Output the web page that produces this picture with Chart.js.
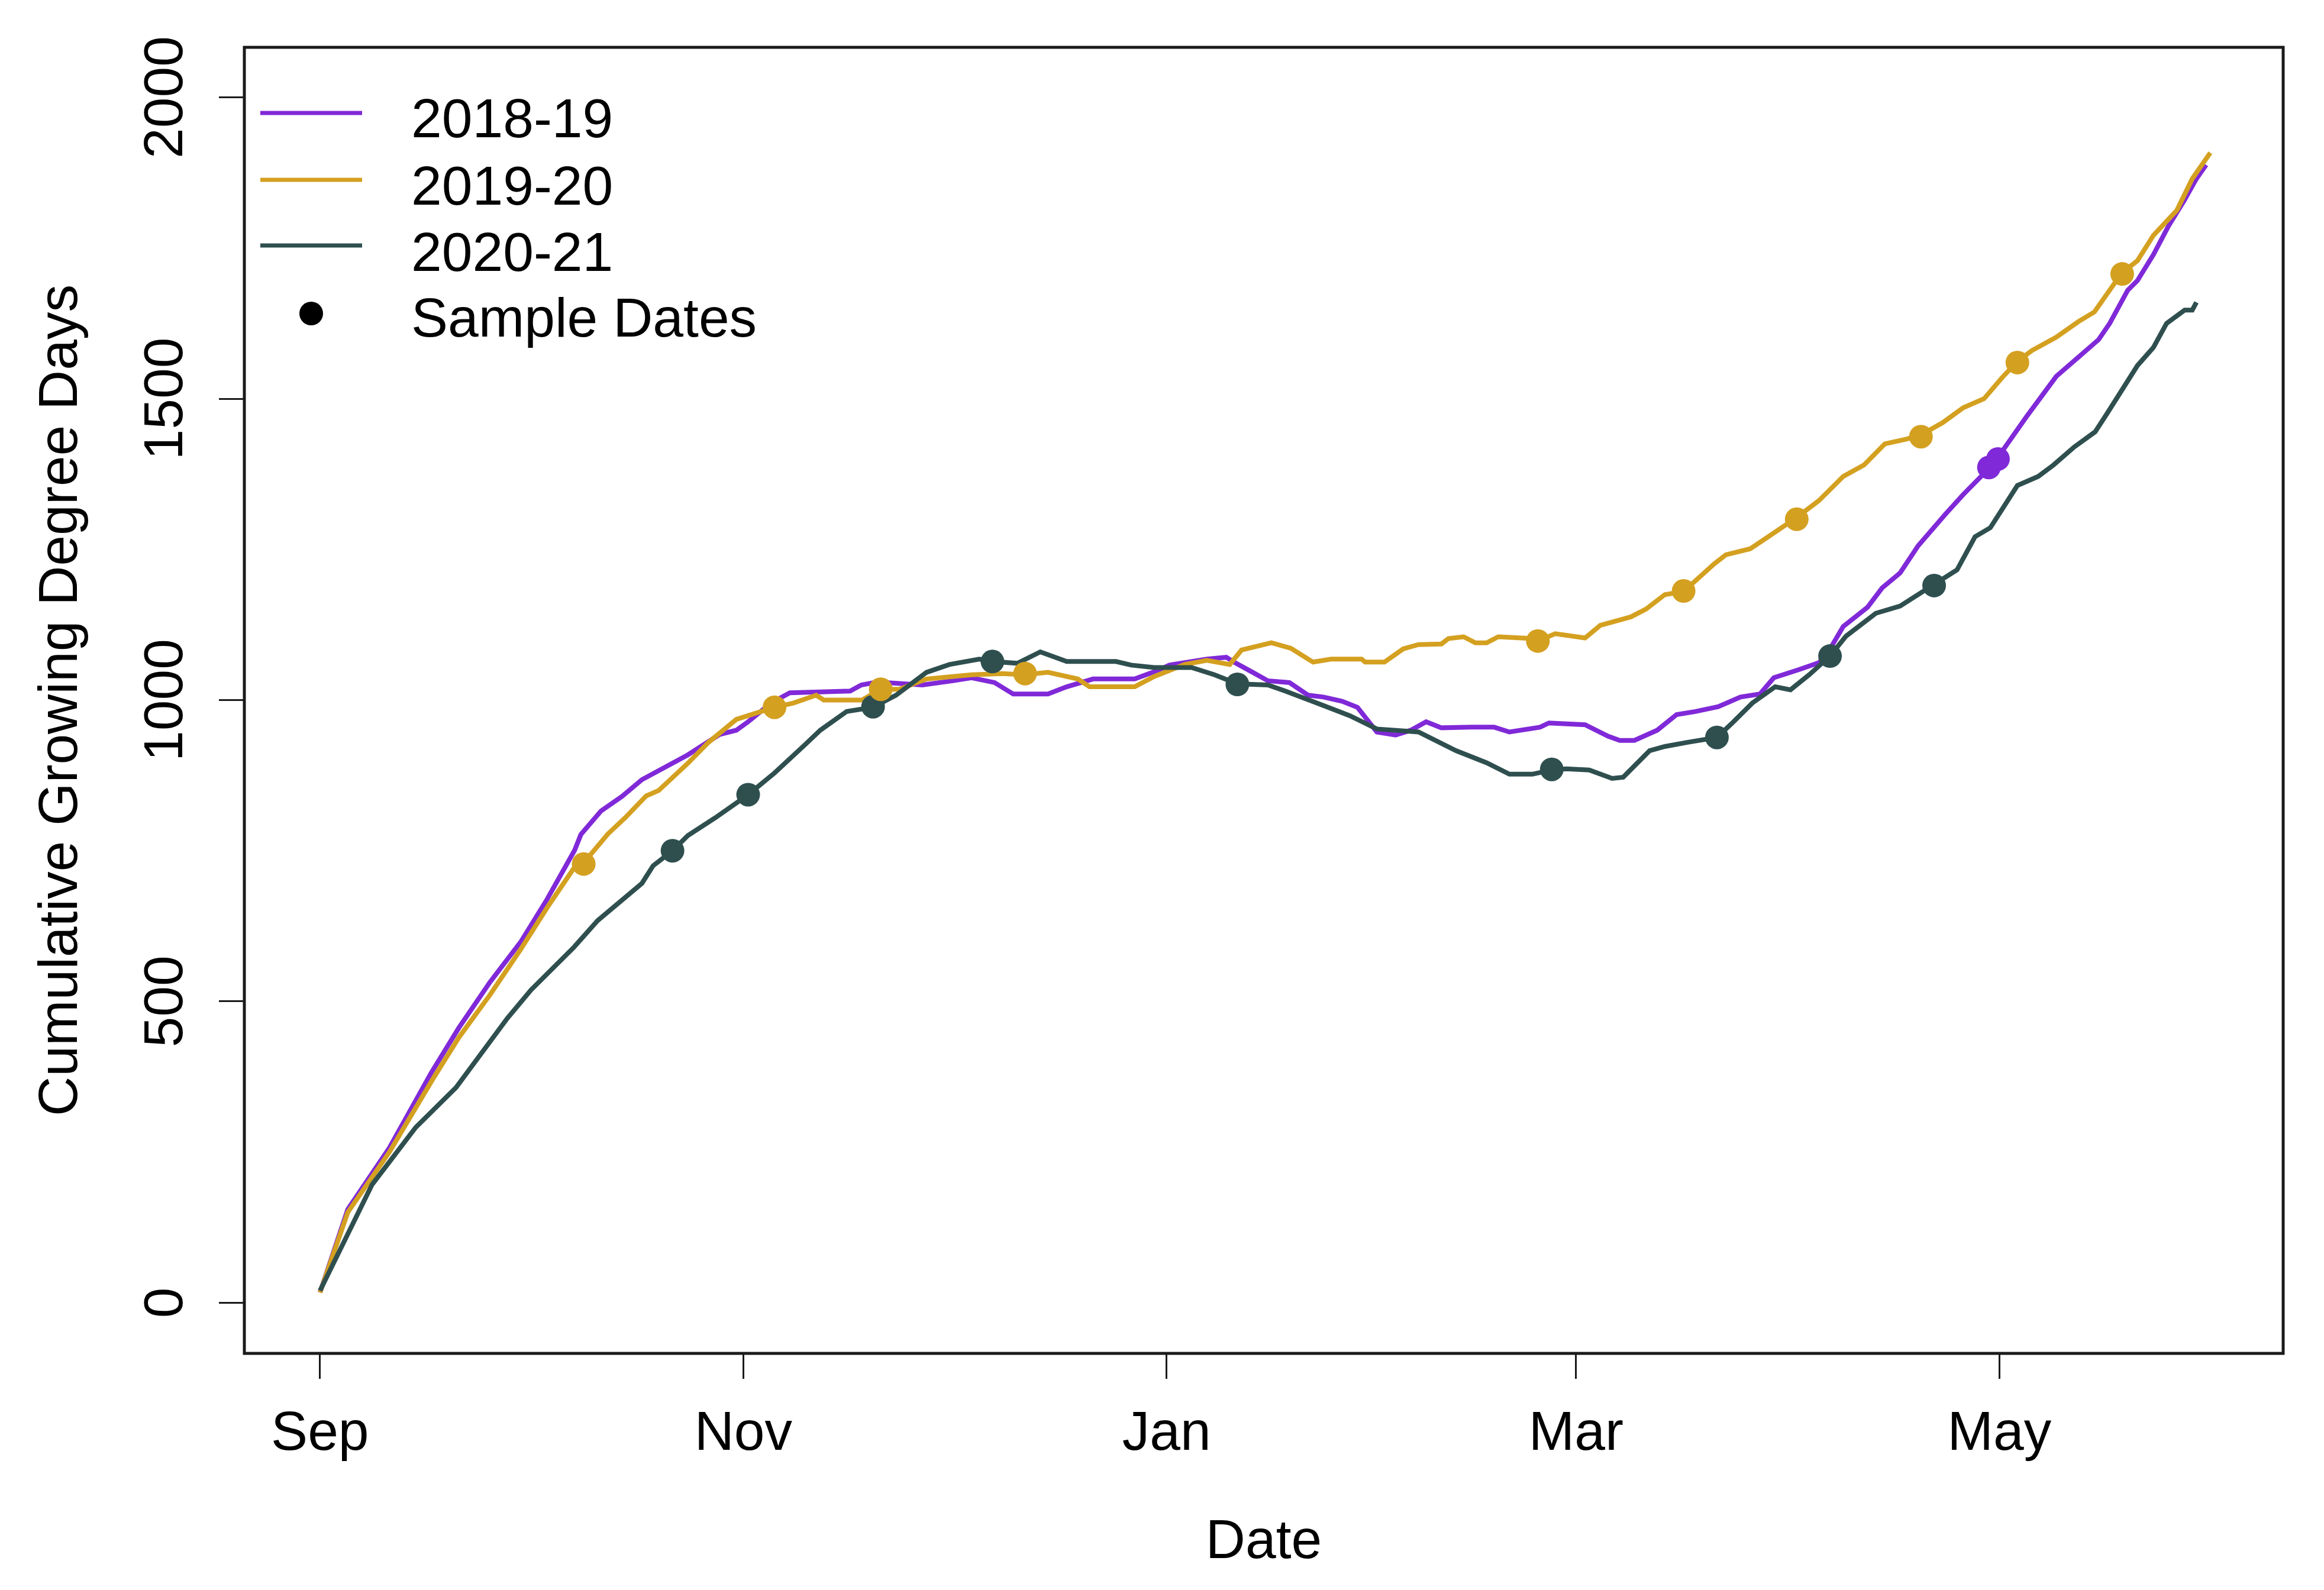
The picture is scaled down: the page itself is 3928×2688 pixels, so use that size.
<!DOCTYPE html>
<html>
<head>
<meta charset="utf-8">
<script src="https://cdn.jsdelivr.net/npm/chart.js@4.4.1/dist/chart.umd.min.js"></script>
<style>
  html, body { margin: 0; padding: 0; background: #ffffff; }
  #wrap { width: 3928px; height: 2688px; }
  canvas { display: block; }
</style>
</head>
<body>
<div id="wrap"><canvas id="c" width="3928" height="2688" style="width:3928px;height:2688px"></canvas></div>
<script>
// ---- Data (days since Sep 1, cumulative GDD) ----
const seasonNames = ["2018-19", "2019-20", "2020-21"];
const seasonColors = ["#8029D8", "#D4A020", "#2F4F4F"];

const days1819 = [0,4,10,16,20,24.5,29,32.7,36.7,37.6,40.5,43.5,46.4,53,57.6,60,61.7,65,67.7,76.4,78,80.3,86.8,91.2,93.9,97.2,99.9,104.9,107.6,111.4,117.4,120.7,122.4,127.8,130.6,131.7,134.4,136.6,139.7,142.4,144.6,147.3,149.5,152.3,155,157.2,159.4,161.6,165.9,169.2,171.4,175.8,177.1,182.3,185.6,187.3,189.4,192.7,195.5,198.2,201.5,204.7,207.5,209.5,213,216,217.3,219.5,223,225.1,227.7,230.3,234.2,236.8,239.8,241.5,245.9,250.2,253.4,256.3,257.9,260.5,261.9,264.2,266.4,268.7,270.4,271.8];
const gdd1819  = [17,155,257,381,456,532,600,669,751,777,816,840,868,909,943,950,964,995,1012,1015,1025,1030,1025,1032,1037,1029,1010,1010,1022,1035,1035,1049,1058,1068,1071,1063,1046,1032,1029,1008,1005,998,988,947,942,950,964,954,955,955,947,955,962,959,940,933,933,950,976,981,989,1005,1010,1037,1050,1062,1079,1122,1154,1186,1211,1256,1308,1341,1376,1398,1470,1537,1569,1598,1625,1680,1696,1739,1787,1830,1865,1888];

const days1920 = [0,4,10,16.2,20,24.5,28.9,32.7,36.7,38,41.5,44,47,48.8,53,56,60,65.5,68.2,71.5,72.6,78.1,80.8,83.5,87.4,93.9,98.3,101.6,104.9,109.2,110.9,117.4,120.2,124.6,127.8,131.1,132.8,137.1,139.9,143.1,145.7,150.1,150.6,153.4,156.1,158.3,161.6,162.6,164.8,166.5,168.1,169.8,174.7,175.5,178,182.3,184.5,188.9,191.1,193.8,196.5,200.9,202.6,206.1,208.7,212.8,216,219.5,222.5,225.5,228.6,230.7,233.8,236.8,239.8,242.4,244.6,246.7,250.2,253.4,255.7,258.5,259.7,261.9,264.2,267.6,269.8,272.4];
const gdd1920  = [17,150,250,370,440,511,586,655,723,730,778,805,841,850,895,930,968,988,995,1008,1000,1000,1018,1018,1035,1042,1044,1042,1046,1035,1022,1022,1039,1059,1066,1059,1083,1095,1086,1063,1068,1068,1063,1063,1085,1092,1093,1102,1105,1095,1095,1105,1102,1098,1110,1103,1124,1138,1151,1175,1180,1226,1241,1251,1271,1303,1331,1371,1390,1425,1433,1440,1460,1485,1500,1535,1562,1580,1602,1628,1644,1690,1709,1729,1771,1813,1865,1908];

const days2021 = [0,7.5,13.8,19.6,27,30.4,36.6,40,46.4,48,50.8,53,57,61.7,65.5,69.9,72.1,75.9,79.7,83,87.4,90.7,95,96.9,100.5,103.8,107.6,114.7,116.9,120.2,125.6,128.9,132.2,136.6,139.1,144.6,148.4,152.3,158.3,163.7,168.1,171.4,174.7,177.5,179.6,182.9,186.2,187.8,191.6,193.8,197.1,201.3,203.7,206.4,209.7,211.9,214.6,217.6,219.9,224.2,227.7,232.6,235.9,238.5,240.7,244.6,247.6,249.8,252.8,255.8,257.5,261.9,264.2,266.1,268.7,269.8,270.4];
const gdd2021  = [20,196,291,357,472,519,590,634,696,725,750,775,805,843,879,926,950,981,988,1008,1046,1059,1068,1064,1061,1080,1064,1064,1058,1054,1054,1042,1027,1025,1015,991,974,952,947,916,896,877,877,884,886,884,870,872,916,923,930,938,964,995,1022,1017,1042,1073,1106,1144,1156,1192,1216,1271,1286,1356,1371,1390,1420,1445,1475,1555,1585,1625,1647,1647,1660];

// Sample dates
const sampleDays1819 = [240.5, 241.8];
const sampleGdd1819  = [1386, 1400];
const sampleDays1920 = [38, 65.5, 80.8, 101.6, 175.5, 196.5, 212.8, 230.7, 244.6, 259.7];
const sampleGdd1920  = [728, 988, 1018, 1044, 1098, 1181, 1300, 1437, 1560, 1707];
const sampleDays2021 = [50.8, 61.7, 79.7, 96.9, 132.2, 177.5, 201.3, 217.6, 232.6];
const sampleGdd2021  = [750, 843, 989, 1064, 1026, 885, 938, 1073, 1190];

// Axis ticks
const xTickDays   = [0, 61, 122, 181, 242];
const xTickLabels = ["Sep", "Nov", "Jan", "Mar", "May"];
const yTickValues = [0, 500, 1000, 1500, 2000];

const xTitle = "Date";
const yTitle = "Cumulative Growing Degree Days";
const sampleLabel = "Sample Dates";

// ---- Build chart ----
function pts(xs, ys) { return xs.map((x, i) => ({ x: x, y: ys[i] })); }

const FONT = '93px "Liberation Sans", Arial, Helvetica, sans-serif';
const INK = '#1a1a1a';

const lineSets = [
  { days: days1819, vals: gdd1819 },
  { days: days1920, vals: gdd1920 },
  { days: days2021, vals: gdd2021 }
];
const sampleSets = [
  { days: sampleDays1819, vals: sampleGdd1819 },
  { days: sampleDays1920, vals: sampleGdd1920 },
  { days: sampleDays2021, vals: sampleGdd2021 }
];

const datasets = [];
lineSets.forEach((s, i) => {
  datasets.push({
    label: seasonNames[i],
    data: pts(s.days, s.vals),
    borderColor: seasonColors[i],
    backgroundColor: seasonColors[i],
    borderWidth: 8,
    pointRadius: 0,
    tension: 0,
    fill: false,
    order: 3 - i + 1
  });
});
sampleSets.forEach((s, i) => {
  datasets.push({
    label: sampleLabel + " " + seasonNames[i],
    data: pts(s.days, s.vals),
    showLine: false,
    pointRadius: 20,
    pointHoverRadius: 20,
    pointBorderWidth: 0,
    pointBackgroundColor: seasonColors[i],
    borderColor: seasonColors[i],
    order: 0
  });
});

const decorPlugin = {
  id: 'decor',
  afterDraw(chart) {
    const ctx = chart.ctx;
    const a = chart.chartArea;
    const xs = chart.scales.x, ys = chart.scales.y;
    ctx.save();
    // box
    ctx.strokeStyle = INK;
    ctx.lineWidth = 5;
    ctx.strokeRect(a.left, a.top, a.right - a.left, a.bottom - a.top);

    ctx.fillStyle = '#000';
    ctx.font = FONT;
    // x tick labels
    ctx.textAlign = 'center';
    ctx.textBaseline = 'alphabetic';
    xTickDays.forEach((d, i) => {
      ctx.fillText(xTickLabels[i], xs.getPixelForValue(d), 2451);
    });
    // x title
    ctx.fillText(xTitle, (a.left + a.right) / 2, 2634);
    // y tick labels (rotated)
    yTickValues.forEach(v => {
      ctx.save();
      ctx.translate(308, ys.getPixelForValue(v));
      ctx.rotate(-Math.PI / 2);
      ctx.textAlign = 'center';
      ctx.textBaseline = 'alphabetic';
      ctx.fillText(String(v), 0, 0);
      ctx.restore();
    });
    // y title
    ctx.save();
    ctx.translate(130, (a.top + a.bottom) / 2);
    ctx.rotate(-Math.PI / 2);
    ctx.textAlign = 'center';
    ctx.textBaseline = 'alphabetic';
    ctx.fillText(yTitle, 0, 0);
    ctx.restore();

    // legend
    const lineY = [191, 304, 415];
    const textY = [232, 346, 458];
    ctx.textAlign = 'left';
    seasonNames.forEach((n, i) => {
      ctx.strokeStyle = seasonColors[i];
      ctx.lineWidth = 7;
      ctx.beginPath();
      ctx.moveTo(440, lineY[i]);
      ctx.lineTo(612, lineY[i]);
      ctx.stroke();
      ctx.fillStyle = '#000';
      ctx.fillText(n, 695, textY[i]);
    });
    ctx.fillStyle = '#000';
    ctx.beginPath();
    ctx.arc(526, 530, 20, 0, Math.PI * 2);
    ctx.fill();
    ctx.fillText(sampleLabel, 695, 569);
    ctx.restore();
  }
};

new Chart(document.getElementById('c'), {
  type: 'line',
  data: { datasets: datasets },
  options: {
    responsive: false,
    animation: false,
    devicePixelRatio: 1,
    layout: { padding: { left: 0, top: 80, right: 69, bottom: 0 } },
    plugins: { legend: { display: false }, tooltip: { enabled: false } },
    scales: {
      x: {
        type: 'linear',
        min: -10.9,
        max: 282.9,
        afterBuildTicks: (scale) => { scale.ticks = xTickDays.map(v => ({ value: v })); },
        afterFit: (scale) => { scale.height = 400; },
        ticks: { display: false },
        grid: { display: true, drawOnChartArea: false, drawTicks: true, tickLength: 43, lineWidth: 3, color: INK },
        border: { display: false }
      },
      y: {
        type: 'linear',
        min: -84,
        max: 2083,
        afterBuildTicks: (scale) => { scale.ticks = yTickValues.map(v => ({ value: v })); },
        afterFit: (scale) => { scale.width = 413; },
        ticks: { display: false },
        grid: { display: true, drawOnChartArea: false, drawTicks: true, tickLength: 43, lineWidth: 3, color: INK },
        border: { display: false }
      }
    }
  },
  plugins: [decorPlugin]
});
</script>
</body>
</html>
